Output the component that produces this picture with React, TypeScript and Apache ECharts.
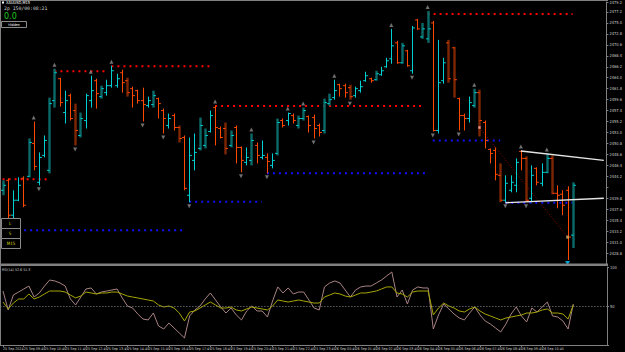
import React, { useEffect, useRef } from "react";
import * as echarts from "echarts";

const opens = [2441.4, 2443.4, 2436.4, 2439.4, 2443.8, 2444.2, 2450.8, 2443.0, 2448.4, 2445.4,
  2459.4, 2463.8, 2457.0, 2460.4, 2457.4, 2452.4, 2455.4, 2459.4, 2463.4, 2460.2,
  2461.0, 2462.4, 2462.4, 2465.0, 2463.4, 2461.8, 2461.4, 2459.4, 2458.4, 2458.6,
  2459.8, 2457.4, 2454.4, 2456.4, 2454.0, 2452.0, 2440.4, 2447.4, 2449.8, 2450.4,
  2453.2, 2458.0, 2453.8, 2453.8, 2450.4, 2454.0, 2450.0, 2447.0, 2447.4, 2450.4,
  2448.0, 2448.0, 2446.4, 2448.8, 2455.4, 2455.4, 2456.4, 2454.4, 2455.8, 2456.2,
  2456.0, 2454.4, 2453.4, 2458.8, 2460.0, 2462.6, 2462.4, 2462.0, 2460.4, 2461.4,
  2463.4, 2463.8, 2463.6, 2464.6, 2466.2, 2467.8, 2471.0, 2467.0, 2469.4, 2465.4,
  2475.6, 2472.2, 2471.8, 2475.0, 2453.4, 2463.4, 2471.0, 2470.0, 2459.8, 2456.4,
  2455.8, 2458.4, 2461.0, 2455.0, 2449.6, 2449.4, 2444.4, 2439.4, 2441.4, 2442.4,
  2449.2, 2447.8, 2439.8, 2445.8, 2442.8, 2445.0, 2447.8, 2440.8, 2440.6, 2441.4,
  2432.4];
const highs = [2443.4, 2443.8, 2441.4, 2444.0, 2444.2, 2451.8, 2455.2, 2449.0, 2452.4, 2460.0,
  2465.8, 2464.0, 2461.4, 2460.8, 2458.8, 2457.0, 2460.8, 2464.4, 2463.8, 2462.4,
  2463.6, 2466.4, 2464.8, 2465.6, 2464.0, 2462.2, 2461.6, 2462.0, 2460.2, 2461.4,
  2460.0, 2457.8, 2456.8, 2456.8, 2454.4, 2452.4, 2452.0, 2452.8, 2456.0, 2453.8,
  2457.4, 2458.4, 2454.2, 2455.0, 2453.4, 2454.4, 2450.2, 2450.0, 2452.8, 2451.0,
  2451.4, 2448.8, 2448.8, 2455.8, 2455.8, 2457.0, 2456.8, 2456.4, 2458.0, 2456.4,
  2456.6, 2454.8, 2459.8, 2460.8, 2463.6, 2462.8, 2462.8, 2462.6, 2462.2, 2463.4,
  2465.2, 2464.0, 2465.4, 2466.2, 2468.0, 2473.8, 2471.4, 2471.0, 2469.6, 2474.4,
  2475.8, 2475.0, 2477.4, 2475.4, 2471.6, 2468.0, 2471.6, 2470.2, 2460.0, 2456.8,
  2460.2, 2461.8, 2461.6, 2455.4, 2449.8, 2450.0, 2446.8, 2444.4, 2444.4, 2447.8,
  2449.4, 2448.2, 2446.4, 2446.0, 2446.8, 2448.8, 2448.4, 2442.4, 2441.4, 2442.2,
  2443.0];
const lows = [2440.4, 2434.4, 2434.4, 2439.2, 2438.0, 2444.0, 2445.4, 2442.4, 2448.0, 2444.8,
  2458.0, 2458.2, 2454.8, 2455.4, 2450.4, 2452.0, 2453.8, 2458.0, 2457.8, 2459.8,
  2460.4, 2462.0, 2462.0, 2461.0, 2460.2, 2458.0, 2458.8, 2455.2, 2458.0, 2458.0,
  2455.8, 2452.8, 2453.8, 2453.4, 2451.0, 2441.4, 2439.0, 2445.4, 2449.4, 2449.8,
  2453.0, 2450.4, 2451.8, 2448.6, 2450.0, 2446.8, 2445.0, 2446.4, 2446.4, 2446.8,
  2447.6, 2444.8, 2445.8, 2448.4, 2454.0, 2454.4, 2454.8, 2453.8, 2455.4, 2453.0,
  2451.8, 2452.2, 2452.8, 2458.4, 2459.6, 2460.2, 2460.0, 2459.6, 2460.0, 2461.0,
  2463.2, 2463.0, 2463.4, 2464.4, 2466.0, 2466.8, 2466.8, 2466.8, 2466.2, 2464.8,
  2473.6, 2471.8, 2471.0, 2453.2, 2452.8, 2462.8, 2463.0, 2460.0, 2453.4, 2453.4,
  2455.0, 2458.0, 2452.2, 2449.8, 2446.8, 2443.4, 2439.0, 2439.0, 2441.0, 2441.0,
  2445.4, 2439.0, 2439.0, 2442.4, 2442.2, 2444.8, 2440.6, 2437.8, 2436.4, 2427.4,
  2429.8];
const closes = [2442.4, 2436.4, 2439.4, 2442.4, 2438.4, 2451.0, 2446.2, 2448.0, 2451.4, 2458.8,
  2465.0, 2459.0, 2459.4, 2455.8, 2453.4, 2455.8, 2460.4, 2461.4, 2460.8, 2461.8,
  2462.4, 2465.4, 2463.8, 2463.0, 2461.0, 2460.4, 2459.4, 2458.6, 2459.4, 2460.4,
  2458.8, 2455.8, 2455.8, 2454.0, 2451.8, 2441.8, 2448.4, 2449.0, 2454.4, 2452.4,
  2456.4, 2454.0, 2452.0, 2449.8, 2452.4, 2450.0, 2447.4, 2448.0, 2451.4, 2448.4,
  2448.4, 2447.2, 2447.4, 2455.0, 2454.4, 2456.8, 2455.4, 2455.8, 2457.4, 2454.4,
  2453.8, 2453.0, 2459.0, 2459.6, 2461.4, 2461.8, 2461.0, 2460.2, 2461.8, 2462.2,
  2464.4, 2463.4, 2464.8, 2465.4, 2467.4, 2470.4, 2467.0, 2470.4, 2466.4, 2474.0,
  2473.8, 2473.8, 2473.8, 2453.4, 2463.0, 2467.0, 2463.8, 2463.6, 2456.4, 2455.8,
  2459.0, 2461.0, 2455.4, 2451.4, 2448.8, 2444.6, 2439.4, 2442.8, 2443.0, 2447.0,
  2447.8, 2439.4, 2444.4, 2443.0, 2445.0, 2447.8, 2440.8, 2440.4, 2438.4, 2432.0,
  2442.4];
const darkBars = [0, 5, 9, 10, 14, 15, 19, 24, 29, 34, 38, 39, 43, 44, 48, 53, 57, 58, 62, 63,
  67, 72, 77, 81, 82, 86, 87, 91, 92, 96, 101, 105, 106, 110];

const rsiFast = [69.2, 44.9, 64.1, 67.9, 71.8, 75.6, 61.5, 66.7, 75.6, 83.3,
  82.1, 79.5, 75.6, 59.0, 51.3, 61.5, 71.8, 73.1, 65.4, 67.9,
  69.2, 70.5, 71.8, 60.3, 50.0, 47.4, 39.7, 33.3, 32.1, 41.0,
  24.4, 20.5, 28.2, 21.8, 15.4, 9.0, 37.2, 44.9, 50.0, 59.0,
  66.7, 57.7, 48.7, 41.0, 47.4, 38.5, 32.1, 43.6, 50.0, 43.6,
  43.6, 35.9, 56.4, 74.4, 66.7, 73.1, 65.4, 67.9, 67.9, 57.7,
  47.4, 44.9, 74.4, 79.5, 82.1, 79.5, 70.5, 61.5, 70.5, 74.4,
  75.6, 75.6, 79.5, 83.3, 88.5, 93.6, 61.5, 70.5, 52.6, 70.5,
  74.4, 73.1, 73.1, 20.5, 38.5, 52.6, 46.2, 39.7, 34.6, 32.1,
  41.0, 48.7, 38.5, 30.8, 26.9, 21.8, 16.7, 26.9, 39.7, 48.7,
  37.2, 29.5, 47.4, 42.3, 48.7, 55.1, 37.2, 35.9, 30.8, 20.5,
  52.6];
const rsiSlow = [55.1, 46.2, 53.8, 59.0, 59.0, 65.4, 59.0, 61.5, 65.4, 69.2,
  69.2, 69.2, 67.9, 64.1, 60.3, 62.8, 67.9, 66.7, 65.4, 66.7,
  66.7, 67.9, 67.9, 65.4, 62.8, 61.5, 60.3, 59.0, 57.7, 56.4,
  51.3, 48.7, 50.0, 47.4, 41.0, 30.8, 42.3, 43.6, 47.4, 51.3,
  55.1, 51.3, 47.4, 47.4, 48.7, 44.9, 43.6, 46.2, 48.7, 47.4,
  46.2, 44.9, 50.0, 57.7, 56.4, 55.1, 56.4, 57.7, 56.4, 55.1,
  53.8, 53.8, 61.5, 64.1, 66.7, 65.4, 62.8, 61.5, 64.1, 66.7,
  66.7, 67.9, 69.2, 71.8, 74.4, 74.4, 66.7, 65.4, 61.5, 67.9,
  69.2, 69.2, 69.2, 38.5, 47.4, 53.8, 50.0, 47.4, 43.6, 42.3,
  46.2, 48.7, 43.6, 39.7, 37.2, 34.6, 32.1, 34.6, 35.9, 37.2,
  38.5, 41.0, 41.0, 42.3, 44.9, 46.2, 41.0, 41.0, 39.7, 33.3,
  51.3];

const timeLabels = ["25 Sep 2024", "25 Sep 09:45", "25 Sep 10:45", "25 Sep 11:45", "25 Sep 12:45",
  "25 Sep 13:45", "25 Sep 14:45", "25 Sep 15:45", "25 Sep 16:45", "25 Sep 17:45", "25 Sep 18:45",
  "25 Sep 19:45", "25 Sep 20:45", "25 Sep 21:45", "25 Sep 22:45", "25 Sep 23:45", "26 Sep 00:45",
  "26 Sep 01:45", "26 Sep 02:45", "26 Sep 03:45", "26 Sep 04:45", "26 Sep 05:45", "26 Sep 06:45",
  "26 Sep 07:45", "26 Sep 08:45", "26 Sep 09:45", "26 Sep 10:45", "26 Sep 11:45"];

const upFractals = [6, 10, 17, 21, 41, 48, 55, 58, 64, 75, 82, 91, 100, 105];
const downFractals = [7, 14, 27, 31, 36, 46, 51, 60, 67, 79, 83, 88, 97, 101];
const redLevels = [[0, 9, 2443.6], [10, 20, 2465.3], [21, 40, 2466.3], [41, 81, 2458.3], [82, 110, 2476.8]];
const blueLevels = [[3, 35, 2433.4], [36, 50, 2439.1], [51, 82, 2444.8], [83, 96, 2451.4], [97, 110, 2438.9]];
const trendLines = [[[100, 2449.3], [116, 2447.4]], [[97, 2438.9], [116, 2439.8]]];
const stopLine = [[92, 2454.0], [109, 2432.0]];
const lastPrice = 2442.4;
const signalBar = 109;

const SLOTS = 117;

export default function App() {
  const ref = useRef<HTMLDivElement>(null);
  useEffect(() => {
    if (!ref.current) return;
    const chart = echarts.init(ref.current, null, { renderer: "svg" });
    const cats = Array.from({ length: SLOTS }, (_, i) => String(i));
    const darkSet = new Set(darkBars);
    const barData = opens.map((o, i) => [i, o, highs[i], lows[i], closes[i], darkSet.has(i) ? 1 : 0]);

    const levelSeries = (lv: number[][], color: string) =>
      lv.map((l) => ({
        type: "line",
        xAxisIndex: 0,
        yAxisIndex: 0,
        data: [[l[0], l[2]], [l[1], l[2]]],
        symbol: "none",
        silent: true,
        lineStyle: { color, width: 2, type: [2, 4], cap: "butt" },
        z: 3,
      }));

    const labelFont = "DejaVu Sans Condensed, DejaVu Sans, sans-serif";

    chart.setOption({
      animation: false,
      backgroundColor: "#000000",
      grid: [
        { left: 0, top: 1, width: 607, height: 263 },
        { left: 0, top: 267, width: 607, height: 78 },
      ],
      xAxis: [
        {
          type: "category",
          gridIndex: 0,
          data: cats,
          boundaryGap: true,
          axisLine: { show: false },
          axisTick: { show: false },
          axisLabel: { show: false },
          splitLine: { show: false },
        },
        {
          type: "category",
          gridIndex: 1,
          data: cats,
          boundaryGap: true,
          axisLine: { show: true, lineStyle: { color: "#808080", width: 1 } },
          axisTick: {
            show: true,
            alignWithLabel: true,
            length: 2,
            interval: (idx: number) => idx % 4 === 0 && idx / 4 < timeLabels.length,
            lineStyle: { color: "#808080" },
          },
          axisLabel: {
            show: true,
            interval: (idx: number) => idx % 4 === 0 && idx / 4 < timeLabels.length,
            formatter: (_v: string, idx: number) => timeLabels[idx / 4] ?? "",
            align: "left",
            color: "#c8c8c8",
            fontSize: 3.6,
            fontFamily: labelFont,
            margin: 2,
          },
          splitLine: { show: false },
        },
      ],
      yAxis: [
        {
          type: "value",
          gridIndex: 0,
          position: "right",
          min: 2426.6,
          max: 2479.2,
          interval: 2.2,
          axisLine: { show: true, lineStyle: { color: "#808080" } },
          axisTick: { show: true, length: 2, lineStyle: { color: "#808080" } },
          axisLabel: {
            color: "#c8c8c8",
            fontSize: 4,
            fontFamily: labelFont,
            margin: 3,
            showMinLabel: false,
            formatter: (v: number) => (Math.abs(v - lastPrice) < 1.2 ? "" : v.toFixed(1)),
          },
          splitLine: { show: false },
        },
        {
          type: "value",
          gridIndex: 1,
          position: "right",
          min: 0,
          max: 100,
          interval: 50,
          axisLine: { show: true, lineStyle: { color: "#808080" } },
          axisTick: { show: true, length: 2, lineStyle: { color: "#808080" } },
          axisLabel: {
            color: "#c8c8c8",
            fontSize: 4,
            fontFamily: labelFont,
            margin: 3,
            formatter: (v: number) => (v === 0 ? "" : String(v)),
          },
          splitLine: { show: false },
        },
      ],
      series: [
        ...levelSeries(redLevels, "#ff0000"),
        ...levelSeries(blueLevels, "#1010ff"),
        {
          type: "custom",
          xAxisIndex: 0,
          yAxisIndex: 0,
          data: barData,
          encode: { x: 0, y: [2, 3] },
          z: 5,
          renderItem: (_params: any, api: any) => {
            const i = api.value(0);
            const o = api.value(1);
            const h = api.value(2);
            const l = api.value(3);
            const c = api.value(4);
            const dark = api.value(5) === 1;
            const ph = api.coord([i, h]);
            const pl = api.coord([i, l]);
            const po = api.coord([i, o]);
            const pc = api.coord([i, c]);
            const bull = c >= o;
            const bright = bull ? "#00d0d4" : "#ff4800";
            const color = dark ? (bull ? "#0a6a6a" : "#7e2600") : bright;
            const x = Math.round(ph[0]) + 0.5;
            const w = dark ? 2.4 : 1;
            return {
              type: "group",
              children: [
                { type: "line", shape: { x1: x, y1: ph[1], x2: x, y2: pl[1] }, style: { stroke: color, lineWidth: w } },
                { type: "line", shape: { x1: x - 2.4, y1: po[1], x2: x, y2: po[1] }, style: { stroke: bright, lineWidth: 1 } },
                { type: "line", shape: { x1: x, y1: pc[1], x2: x + 2.4, y2: pc[1] }, style: { stroke: bright, lineWidth: 1 } },
              ],
            };
          },
        },
        {
          type: "line",
          xAxisIndex: 0,
          yAxisIndex: 0,
          data: stopLine,
          symbol: "none",
          silent: true,
          lineStyle: { color: "#a00000", width: 1, type: [1, 2] },
          z: 4,
        },
        ...trendLines.map((t) => ({
          type: "line",
          xAxisIndex: 0,
          yAxisIndex: 0,
          data: t,
          symbol: "none",
          silent: true,
          lineStyle: { color: "#e6e6e6", width: 1.4 },
          z: 6,
        })),
        {
          type: "scatter",
          xAxisIndex: 0,
          yAxisIndex: 0,
          data: upFractals.map((i) => [i, highs[i]]),
          symbol: "triangle",
          symbolSize: [4, 4],
          symbolOffset: [0, -4],
          itemStyle: { color: "#8c8c8c" },
          silent: true,
          z: 7,
        },
        {
          type: "scatter",
          xAxisIndex: 0,
          yAxisIndex: 0,
          data: downFractals.map((i) => [i, lows[i]]),
          symbol: "triangle",
          symbolRotate: 180,
          symbolSize: [4, 4],
          symbolOffset: [0, 4],
          itemStyle: { color: "#8c8c8c" },
          silent: true,
          z: 7,
        },
        {
          type: "scatter",
          xAxisIndex: 0,
          yAxisIndex: 0,
          data: [[signalBar, lows[signalBar]]],
          symbol: "triangle",
          symbolRotate: 180,
          symbolSize: [5, 4],
          symbolOffset: [0, 3],
          itemStyle: { color: "#00c8ff" },
          silent: true,
          z: 7,
        },
        {
          type: "scatter",
          xAxisIndex: 0,
          yAxisIndex: 0,
          data: [stopLine[0]],
          symbol: "rect",
          symbolSize: [2.5, 2.5],
          itemStyle: { color: "#ffb0b0" },
          silent: true,
          z: 7,
        },
        {
          type: "scatter",
          xAxisIndex: 0,
          yAxisIndex: 0,
          data: [stopLine[1]],
          symbol: "rect",
          symbolSize: [2.5, 3],
          itemStyle: { color: "#e0c070" },
          silent: true,
          z: 7,
        },
        {
          type: "line",
          xAxisIndex: 0,
          yAxisIndex: 0,
          data: [],
          silent: true,
          markLine: {
            silent: true,
            symbol: "none",
            data: [{ yAxis: lastPrice }],
            lineStyle: { opacity: 0 },
            label: {
              show: true,
              position: "end",
              formatter: lastPrice.toFixed(2),
              backgroundColor: "#ffffff",
              color: "#000000",
              fontSize: 4,
              fontFamily: labelFont,
              padding: [1, 2, 0, 1],
              distance: 1,
            },
          },
        },
        {
          type: "line",
          xAxisIndex: 1,
          yAxisIndex: 1,
          data: rsiFast,
          symbol: "none",
          silent: true,
          lineStyle: { color: "#a88282", width: 1 },
          z: 3,
        },
        {
          type: "line",
          xAxisIndex: 1,
          yAxisIndex: 1,
          data: rsiSlow,
          symbol: "none",
          silent: true,
          lineStyle: { color: "#a6a600", width: 1 },
          z: 4,
          markLine: {
            silent: true,
            symbol: "none",
            data: [{ yAxis: 50 }],
            lineStyle: { color: "#8a8a8a", width: 1, type: [1, 2] },
            label: { show: false },
          },
        },
      ],
      graphic: [
        { type: "rect", shape: { x: 0, y: 0, width: 608, height: 1 }, style: { fill: "#808080" }, z: 100 },
        { type: "rect", shape: { x: 0, y: 0, width: 1, height: 345 }, style: { fill: "#808080" }, z: 100 },
        { type: "rect", shape: { x: 0, y: 263.5, width: 608, height: 2.5 }, style: { fill: "#808080" }, z: 100 },
        { type: "rect", shape: { x: 2, y: 1.5, width: 2, height: 2 }, style: { fill: "#ffffff" }, z: 100 },
        { type: "text", x: 6, y: 0.8, style: { text: "XAUUSD,M15", fill: "#ffffff", fontSize: 4, fontFamily: labelFont }, z: 100 },
        { type: "text", x: 4, y: 5.5, style: { text: "2p 150/00:08:21", fill: "#d0d0d0", fontSize: 4.8, fontFamily: "DejaVu Sans Mono, monospace" }, z: 100 },
        { type: "text", x: 4, y: 12, style: { text: "0.0", fill: "#1ec81e", fontSize: 8, fontFamily: "DejaVu Sans, sans-serif" }, z: 100 },
        { type: "rect", shape: { x: 1.5, y: 21.5, width: 25, height: 6 }, style: { fill: "#000000", stroke: "#8a8a8a", lineWidth: 1 }, z: 100 },
        { type: "text", x: 14, y: 24.5, style: { text: "Hidden", fill: "#ffffff", fontSize: 3.6, fontFamily: labelFont, align: "center", verticalAlign: "middle" }, z: 101 },
        { type: "rect", shape: { x: 1.5, y: 218.5, width: 19, height: 10 }, style: { fill: "#000000", stroke: "#8a8a8a", lineWidth: 1 }, z: 100 },
        { type: "rect", shape: { x: 1.5, y: 228.5, width: 19, height: 10 }, style: { fill: "#000000", stroke: "#8a8a8a", lineWidth: 1 }, z: 100 },
        { type: "rect", shape: { x: 1.5, y: 238.5, width: 19, height: 10 }, style: { fill: "#000000", stroke: "#8a8a8a", lineWidth: 1 }, z: 100 },
        { type: "text", x: 10, y: 223.5, style: { text: "L", fill: "#d2d200", fontSize: 4.5, fontFamily: labelFont, align: "center", verticalAlign: "middle" }, z: 101 },
        { type: "text", x: 10, y: 233.5, style: { text: "S", fill: "#d2d200", fontSize: 4.5, fontFamily: labelFont, align: "center", verticalAlign: "middle" }, z: 101 },
        { type: "text", x: 11, y: 243.5, style: { text: "M15", fill: "#d2d200", fontSize: 4.5, fontFamily: labelFont, align: "center", verticalAlign: "middle" }, z: 101 },
        { type: "text", x: 2, y: 267.5, style: { text: "RSI(14) 52.6 51.3", fill: "#c8c8c8", fontSize: 3.6, fontFamily: labelFont }, z: 100 },
      ],
    });
    return () => chart.dispose();
  }, []);
  return (
    <div
      ref={ref}
      style={{ position: "fixed", left: 0, top: 0, width: 625, height: 352, background: "#000" }}
    />
  );
}
